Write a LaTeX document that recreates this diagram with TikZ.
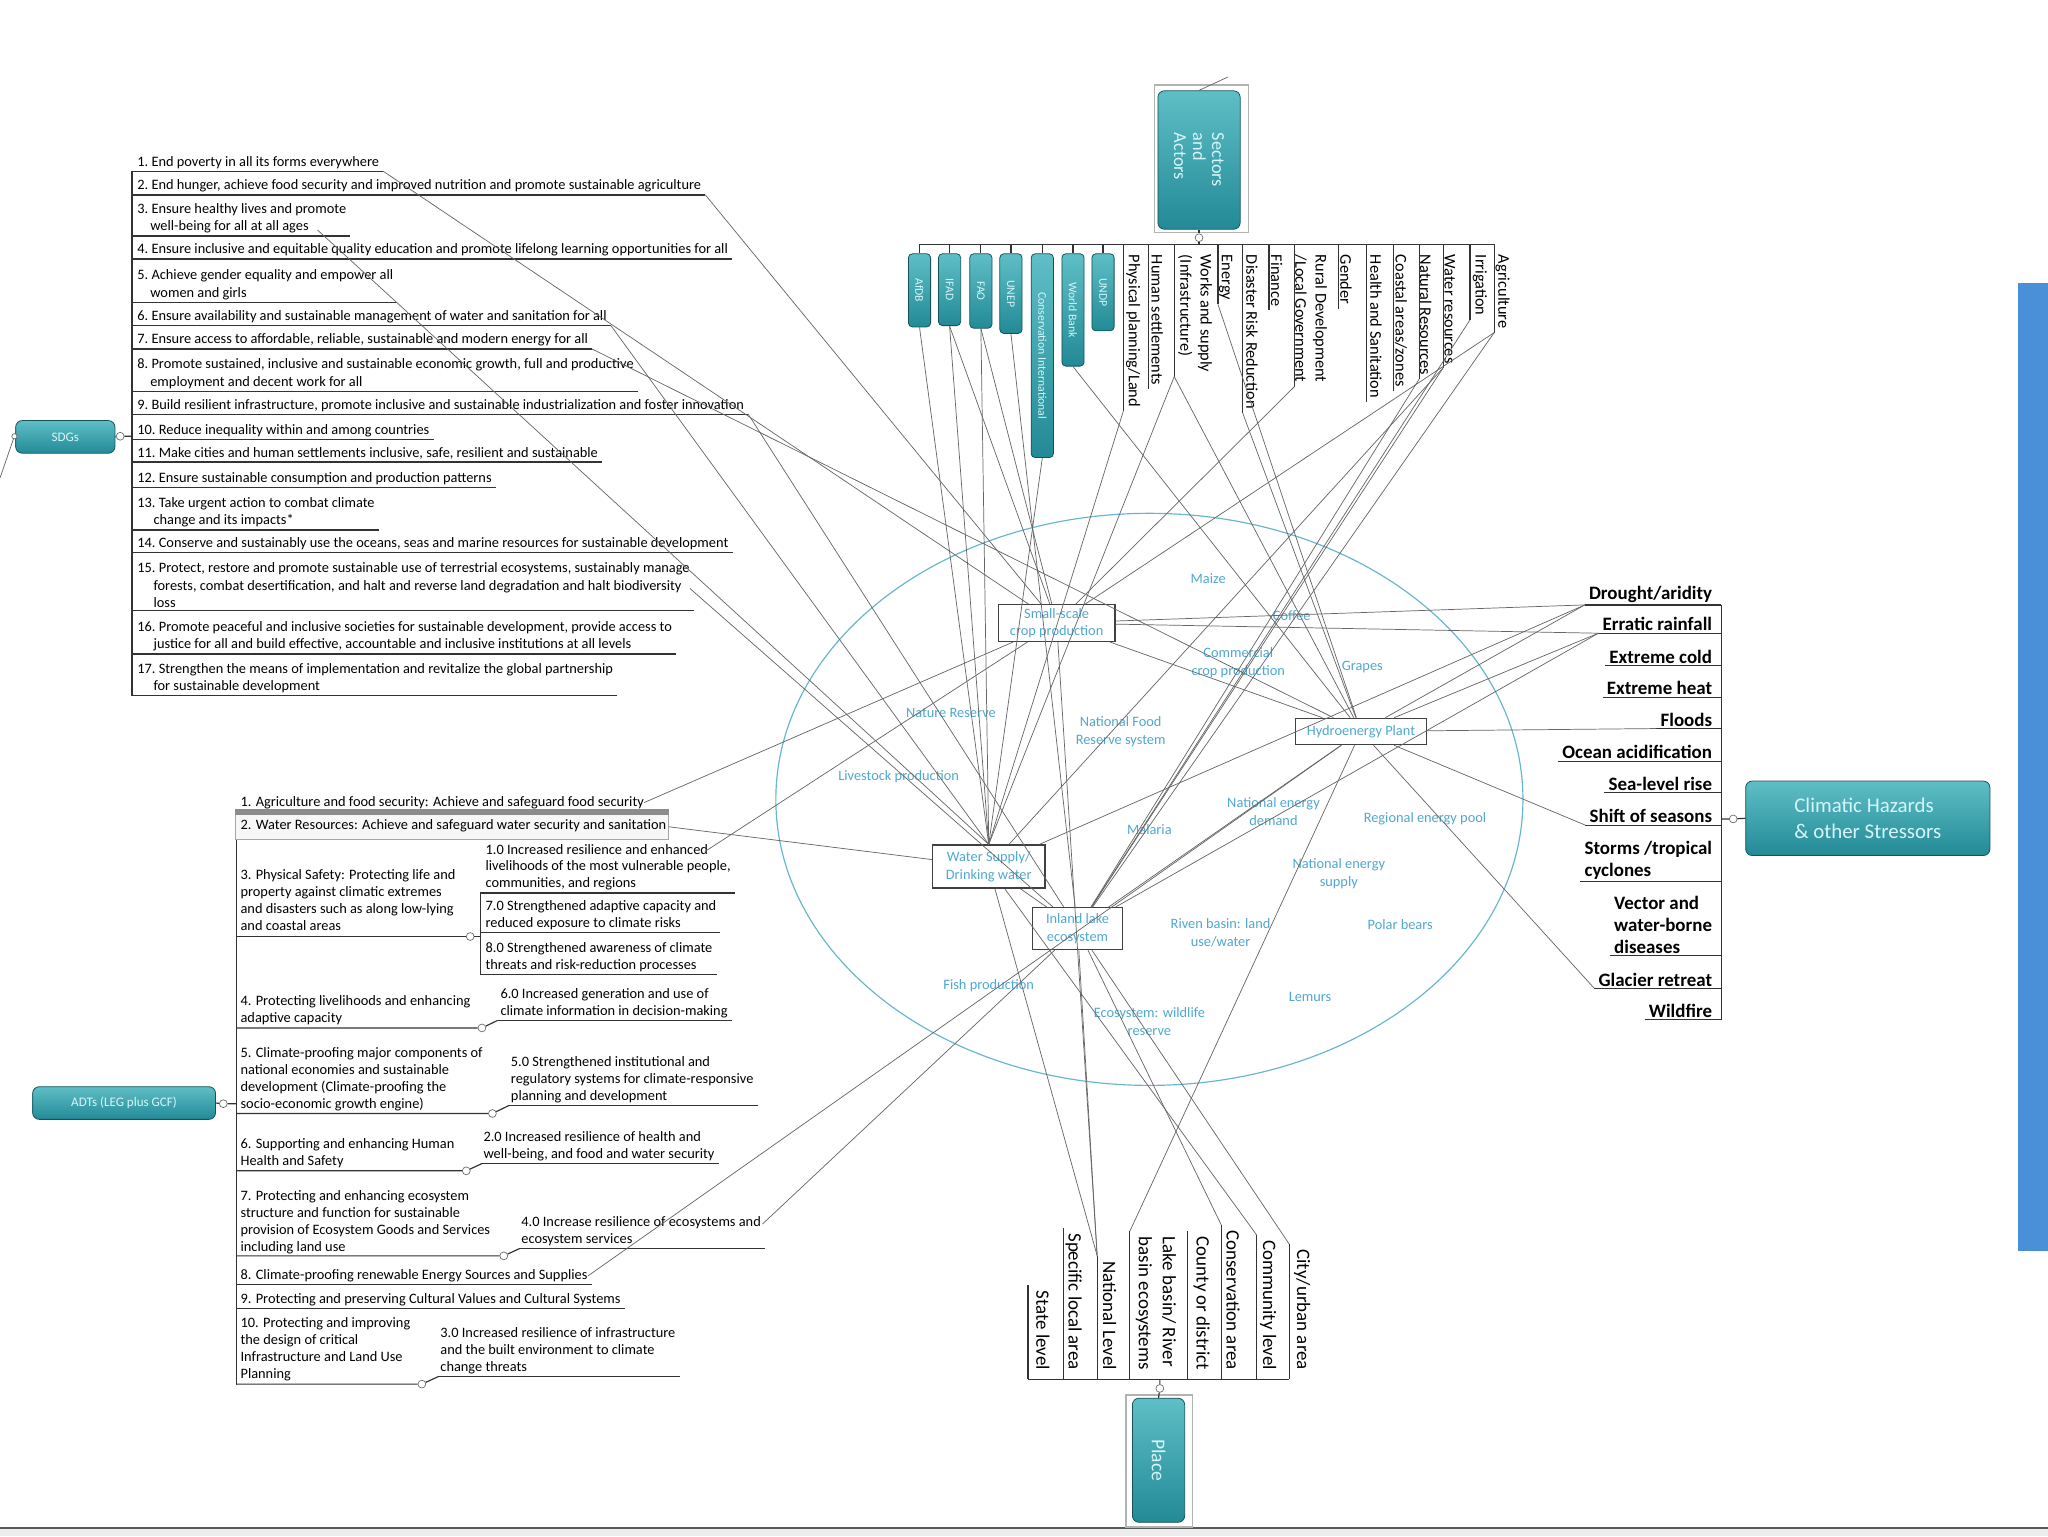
\documentclass[tikz,border=0pt]{standalone}
\usepackage{fontspec}
\setmainfont{Carlito}
\usetikzlibrary{calc}
\definecolor{tealD}{RGB}{34,138,150}
\definecolor{tealL}{RGB}{95,190,198}
\definecolor{tealT}{RGB}{215,245,248}
\definecolor{innerblue}{RGB}{80,168,208}
\definecolor{ellc}{RGB}{105,182,204}
\definecolor{barblue}{RGB}{74,144,217}
\newcommand\ind{\hspace*{0.9em}}
\newcommand\sdgitem[3]{%
  \node[sdgt] (#1) at (105,#2) {#3};
  \path (#1.south east) ++(3,1.8) coordinate (#1e);
  \draw[ul] (sbr |- #1e) -- (#1e);}
\newcommand\adtsub[5]{%
  \node[adtt] (#1) at (#2,#3) {#5};
  \path (#1.south east) ++(3,1.8) coordinate (#1e);
  \draw[ul] (#4,0 |- #1e) -- (#1e);}
\newcommand\hazitem[3]{%
  \node[hz] (#1) at (1311,#2) {#3};
  \path (#1.south west) ++(-3,1.5) coordinate (#1u);
  \draw[ul] (#1u) -- (hbr |- #1u);}
\newcommand\topitem[4]{%
  \node[topl] (#1) at (#3,195) {#4};
  \path (#1.east -| #2,0) ++(0,3) coordinate (#1b);
  \draw[ul] (#2,187) -- (#1b);}
\newcommand\plcitem[4]{%
  \node[plc] (#1) at (#3,1049) {#4};
  \path (#1.west -| #2,0) ++(0,-4) coordinate (#1t);
  \draw[ul] (#1t) -- (#2,1056);}
\begin{document}
\begin{tikzpicture}[x=1pt,y=-1pt,
  tealbox/.style={draw=tealD!60!black, line width=0.6pt, rounded corners=5pt, top color=tealL, bottom color=tealD, text=tealT, align=center, inner sep=1pt},
  sdgt/.style={anchor=north west, inner sep=0pt, align=left, font=\fontsize{11}{13.5}\selectfont},
  adtt/.style={anchor=north west, inner sep=0pt, align=left, font=\fontsize{11}{13}\selectfont},
  hz/.style={anchor=north east, inner sep=0pt, align=left, font=\fontsize{14.5}{17}\selectfont\bfseries},
  topl/.style={rotate=-90, anchor=west, inner sep=0pt, align=left, font=\fontsize{12.5}{15.5}\selectfont},
  plc/.style={rotate=-90, anchor=east, inner sep=0pt, align=left, font=\fontsize{14.5}{18.5}\selectfont},
  ul/.style={line width=0.9pt, black!80},
  lk/.style={line width=0.55pt, black!60},
  circ/.style={circle, draw=black!60, fill=white, line width=0.5pt, inner sep=0pt, minimum size=6pt},
  inb/.style={draw=black!75, line width=1.1pt, inner sep=2pt, text=innerblue, align=center, font=\fontsize{11}{13.5}\selectfont},
  fl/.style={text=innerblue, align=center, inner sep=0pt, font=\fontsize{11}{13.5}\selectfont},
  org/.style={tealbox, rotate=-90, anchor=west, rounded corners=3pt, minimum height=17pt, font=\fontsize{9}{10}\selectfont, inner sep=1pt}
]
\useasboundingbox (0,0) rectangle (1568,1176);
\fill[white] (0,0) rectangle (1568,1176);
\fill[black!7] (0,1170) rectangle (1568,1176);
\draw[black!65, line width=1.3pt] (0,1170) -- (1568,1170);
\fill[barblue] (1545,217) rectangle (1568,958);
\draw[ellc, line width=0.9pt] (880,612) ellipse [x radius=286pt, y radius=219pt];

% ---------------- SDGs
\coordinate (sbr) at (101,0);
\node[tealbox, minimum width=76pt, minimum height=25pt, font=\fontsize{10}{12}\selectfont] (sdgs) at (50,334.5) {SDGs};
\node[circ] (csdg) at (92,334) {};
\node[circ, minimum size=4pt] (csdl) at (11,334) {};
\coordinate (sdgout) at (0,366);
\draw[ul] (sdgs.east) -- (csdg) -- (101,334);
\draw[lk] (csdl) -- (sdgout);
\sdgitem{s1}{119.5}{1.\ End poverty in all its forms everywhere}
\sdgitem{s2}{137.5}{2.\ End hunger, achieve food security and improved nutrition and promote sustainable agriculture}
\sdgitem{s3}{155.5}{3.\ Ensure healthy lives and promote\\\ind well-being for all at all ages}
\sdgitem{s4}{186.5}{4.\ Ensure inclusive and equitable quality education and promote lifelong learning opportunities for all}
\sdgitem{s5}{206.5}{5.\ Achieve gender equality and empower all\\\ind women and girls}
\sdgitem{s6}{237.5}{6.\ Ensure availability and sustainable management of water and sanitation for all}
\sdgitem{s7}{255.5}{7.\ Ensure access to affordable, reliable, sustainable and modern energy for all}
\sdgitem{s8}{274.5}{8.\ Promote sustained, inclusive and sustainable economic growth, full and productive\\\ind employment and decent work for all}
\sdgitem{s9}{305.5}{9.\ Build resilient infrastructure, promote inclusive and sustainable industrialization and foster innovation}
\sdgitem{s10}{324.5}{10.\ Reduce inequality within and among countries}
\sdgitem{s11}{342.5}{11.\ Make cities and human settlements inclusive, safe, resilient and sustainable}
\sdgitem{s12}{361.5}{12.\ Ensure sustainable consumption and production patterns}
\sdgitem{s13}{380.5}{13.\ Take urgent action to combat climate\\\ind\ change and its impacts*}
\sdgitem{s14}{411.5}{14.\ Conserve and sustainably use the oceans, seas and marine resources for sustainable development}
\sdgitem{s15}{430.5}{15.\ Protect, restore and promote sustainable use of terrestrial ecosystems, sustainably manage\\\ind\ forests, combat desertification, and halt and reverse land degradation and halt biodiversity\\\ind\ loss}
\sdgitem{s16}{475.5}{16.\ Promote peaceful and inclusive societies for sustainable development, provide access to\\\ind\ justice for all and build effective, accountable and inclusive institutions at all levels}
\sdgitem{s17}{507.5}{17.\ Strengthen the means of implementation and revitalize the global partnership\\\ind\ for sustainable development}
\draw[ul] (sbr |- s1e) -- (sbr |- s17e);
\coordinate (s3x) at (243,176);
\path (s15.north east) ++(0,20) coordinate (s15x);

% ---------------- ADTs
\node[tealbox, minimum width=140pt, minimum height=25pt, font=\fontsize{10}{12}\selectfont] (adts) at (95,844.5) {ADTs (LEG plus GCF)};
\node[circ] (cadt) at (171,845) {};
\draw[ul] (adts.east) -- (cadt) -- (181,845);
\draw[ul] (181,643) -- (181,1060);
\node[adtt] (a1) at (184,609.5) {1. Agriculture and food security: Achieve and safeguard food security};
\draw[black!35, line width=0.8pt, fill=black!3] (180,621) rectangle (512,643);
\fill[black!45] (180,619) rectangle (512,624);
\node[adtt] (a2) at (184,627.5) {2. Water Resources: Achieve and safeguard water security and sanitation};
\coordinate (a2r) at (512,633);
\node[adtt] (a3) at (184,665.2) {3. Physical Safety: Protecting life and\\property against climatic extremes\\and disasters such as along low-lying\\and coastal areas};
\node[adtt] (a4) at (184,761.9) {4. Protecting livelihoods and enhancing\\adaptive capacity};
\node[adtt] (a5) at (184,801.5) {5. Climate-proofing major components of\\national economies and sustainable\\development (Climate-proofing the\\socio-economic growth engine)};
\node[adtt] (a6) at (184,871.2) {6. Supporting and enhancing Human\\Health and Safety};
\node[adtt] (a7) at (184,911.2) {7. Protecting and enhancing ecosystem\\structure and function for sustainable\\provision of Ecosystem Goods and Services\\including land use};
\node[adtt] (a8) at (184,972) {8. Climate-proofing renewable Energy Sources and Supplies};
\path (a8.south east) ++(3,1.8) coordinate (a8e);
\draw[ul] (181,0 |- a8e) -- (a8e);
\node[adtt] (a9) at (184,990) {9. Protecting and preserving Cultural Values and Cultural Systems};
\path (a9.south east) ++(3,1.8) coordinate (a9e);
\draw[ul] (181,0 |- a9e) -- (a9e);
\node[adtt] (a10) at (184,1008.5) {10. Protecting and improving\\the design of critical\\Infrastructure and Land Use\\Planning};
% sub items
\adtsub{r10}{371.6}{646}{367.7}{1.0 Increased resilience and enhanced\\livelihoods of the most vulnerable people,\\communities, and regions}
\adtsub{r70}{371.6}{689.5}{367.7}{7.0 Strengthened adaptive capacity and\\reduced exposure to climate risks}
\adtsub{r80}{371.6}{721.2}{367.7}{8.0 Strengthened awareness of climate\\threats and risk-reduction processes}
\adtsub{r60}{383}{756.5}{381}{6.0 Increased generation and use of\\climate information in decision-making}
\adtsub{r50}{391}{808.5}{390}{5.0 Strengthened institutional and\\regulatory systems for climate-responsive\\planning and development}
\adtsub{r20}{370}{866.1}{369}{2.0 Increased resilience of health and\\well-being, and food and water security}
\adtsub{r40}{399}{931.2}{398}{4.0 Increase resilience of ecosystems and\\ecosystem services}
\adtsub{r30}{337}{1016}{336}{3.0 Increased resilience of infrastructure\\and the built environment to climate\\change threats}
\node[circ] (c3) at (360,717) {};
\draw[ul] (181,717) -- (c3) -- (367.7,717);
\draw[ul] (367.7,0 |- r10e) -- (367.7,0 |- r80e);
\node[circ] (c4) at (369,787) {};
\draw[ul] (181,787) -- (c4) -- (381,0 |- r60e);
\node[circ] (c5) at (377,852.5) {};
\draw[ul] (181,852.5) -- (c5) -- (390,0 |- r50e);
\node[circ] (c6) at (357,896.4) {};
\draw[ul] (181,896.4) -- (c6) -- (369,0 |- r20e);
\node[circ] (c7) at (385.7,961.5) {};
\draw[ul] (181,961.5) -- (c7) -- (398,0 |- r40e);
\node[circ] (c10) at (323,1059.7) {};
\draw[ul] (181,1059.7) -- (c10) -- (336,0 |- r30e);
\path (r10.north east) ++(-20,6) coordinate (r10x);
\path (r40.north east) ++(1,6) coordinate (r40x);

% ---------------- Sectors and Actors
\draw[black!30, line width=1.2pt] (884,65) rectangle (956,178);
\node[tealbox, rotate=-90, minimum width=106pt, minimum height=63pt, align=left, font=\fontsize{14}{14.5}\selectfont] (sect) at (918,122.5) {Sectors\\and\\Actors};
\node[circ] (csect) at (918,182) {};
\coordinate (sstub) at (940,59);
\draw[lk] (sect.west) -- (sstub);
\draw[ul] (sect.east) -- (csect) -- (918,187);
\draw[ul] (704,187) -- (1144,187);
\node[org, minimum width=56pt] (afdb) at (704,194) {AfDB};
\node[org, minimum width=55pt] (ifad) at (727,194) {IFAD};
\node[org, minimum width=57pt] (fao) at (751,194) {FAO};
\node[org, minimum width=61pt] (unep) at (774,194) {UNEP};
\node[org, minimum width=156pt] (ci) at (798,194) {Conservation International};
\node[org, minimum width=86pt] (wb) at (821.5,194) {World Bank};
\node[org, minimum width=59pt] (undp) at (844.5,194) {UNDP};
\foreach \n/\xx in {afdb/704,ifad/727,fao/751,unep/774,ci/798,wb/821.5,undp/844.5}
  {\draw[ul] (\xx,187) -- (\n.west);}
\topitem{phys}{860}{867.5}{Physical planning/Land}
\topitem{human}{879}{886}{Human settlements}
\topitem{works}{899}{915}{Works and supply\\(Infrastructure)}
\topitem{energy}{932.5}{938.5}{Energy}
\topitem{drr}{951.5}{958.5}{Disaster Risk Reduction}
\topitem{finance}{971.5}{977.5}{Finance}
\topitem{rural}{991}{1003.5}{Rural Development\\/Local Government}
\topitem{gender}{1025}{1030.5}{Gender}
\topitem{health}{1046}{1053.5}{Health and Sanitation}
\topitem{coastal}{1067}{1072.5}{Coastal areas/zones}
\topitem{nres}{1086.5}{1091.5}{Natural Resources}
\topitem{wres}{1105}{1110}{Water resources}
\topitem{irr}{1125.5}{1133}{Irrigation}
\topitem{agri}{1144}{1150.5}{Agriculture}

% ---------------- Place
\draw[black!30, line width=1.2pt] (862,1068) rectangle (913,1169);
\node[tealbox, rotate=-90, minimum width=95pt, minimum height=40pt, font=\fontsize{15}{17}\selectfont] (place) at (887,1118) {Place};
\node[circ] (cplace) at (888,1063) {};
\draw[ul] (place.west) -- (cplace) -- (888,1056);
\draw[ul] (787,1056) -- (987,1056);
\plcitem{state}{787}{798.5}{State level}
\plcitem{specific}{814}{822}{Specific local area}
\plcitem{national}{840}{849.5}{National Level}
\plcitem{lakeb}{865}{885}{Lake basin/ River\\basin ecosystems}
\plcitem{county}{909}{920}{County or district}
\plcitem{conserv}{935}{944}{Conservation area}
\plcitem{commun}{962}{971}{Community level}
\plcitem{city}{987}{997}{City/urban area}

% ---------------- Climatic hazards
\coordinate (hbr) at (1318,0);
\node[tealbox, minimum width=187pt, minimum height=57pt, align=left, font=\fontsize{16}{19.5}\selectfont] (clim) at (1430,626.5) {Climatic Hazards\\\& other Stressors};
\node[circ] (cclim) at (1327,627) {};
\draw[ul] (clim.west) -- (cclim) -- (1318,627);
\hazitem{drought}{448.6}{Drought/aridity}
\hazitem{erratic}{472.6}{Erratic rainfall}
\hazitem{cold}{497.6}{Extreme cold}
\hazitem{heat}{521.6}{Extreme heat}
\hazitem{floods}{545.6}{Floods}
\hazitem{ocean}{570.6}{Ocean acidification}
\hazitem{sea}{594.6}{Sea-level rise}
\hazitem{shift}{619.6}{Shift of seasons}
\hazitem{storms}{643.6}{Storms /tropical\\cyclones}
\hazitem{vector}{685.6}{Vector and\\water-borne\\diseases}
\hazitem{glacier}{744.6}{Glacier retreat}
\hazitem{wildfire}{768.6}{Wildfire}
\draw[ul] (hbr |- droughtu) -- (hbr |- wildfireu);

% ---------------- inner boxes and labels
\node[inb, minimum width=89pt, minimum height=28pt] (crop) at (809,477) {Small-scale\\crop production};
\node[inb, minimum width=100pt, minimum height=20pt] (hydro) at (1042,560) {Hydroenergy Plant};
\node[inb, minimum width=86pt, minimum height=33pt] (water) at (757,663.5) {Water Supply/\\Drinking water};
\node[inb, minimum width=69pt, minimum height=32pt] (lake) at (825,711) {Inland lake\\ecosystem};
\node[fl] (maize) at (925,443) {Maize};
\node[fl] (coffee) at (989,471) {Coffee};
\node[fl] (commerc) at (948,507.5) {Commercial\\crop production};
\node[fl] (grapes) at (1043,511) {Grapes};
\node[fl] (nature) at (728,546) {Nature Reserve};
\node[fl] (nfood) at (858,560) {National Food\\Reserve system};
\node[fl] (livest) at (688,595) {Livestock production};
\node[fl] (nedem) at (975,621.5) {National energy\\demand};
\node[fl] (regpool) at (1091,627) {Regional energy pool};
\node[fl] (malaria) at (880,635.5) {Malaria};
\node[fl] (nesup) at (1025,669) {National energy\\supply};
\node[fl] (riven) at (934.5,714) {Riven basin: land\\use/water};
\node[fl] (polar) at (1072,708) {Polar bears};
\node[fl] (fish) at (757,755) {Fish production};
\node[fl] (lemurs) at (1003,763) {Lemurs};
\node[fl] (ecowild) at (880,782) {Ecosystem: wildlife\\reserve};

% ---------------- connectors
\draw[lk] (s1e) -- (crop);
\draw[lk] (s2e) -- (crop);
\draw[lk] (s3x) -- (water.north);
\draw[lk] (s6e) -- (water.north);
\draw[lk] (s7e) -- (hydro);
\draw[lk] (s9e) -- (lake);
\draw[lk] (s15x) -- (lake);
\draw[lk] (a1.east) -- (crop);
\draw[lk] (a2r) -- (water);
\draw[lk] (r10x) -- (crop);
\draw[lk] (r40x) -- (lake);
\draw[lk] (a8.east) -- (hydro);
\draw[lk] (afdb.east) -- (water.north);
\draw[lk] (ifad.east) -- (water.north);
\draw[lk] (ifad.east) -- (crop);
\draw[lk] (fao.east) -- (water.north);
\draw[lk] (fao.east) -- (crop);
\draw[lk] (unep.east) -- (lake);
\draw[lk] (ci.east) -- (water.north);
\draw[lk] (wb.east) -- (hydro);
\draw[lk] (physb) -- (water.north);
\draw[lk] (worksb) -- (water.north);
\draw[lk] (worksb) -- (hydro);
\draw[lk] (energyb) -- (hydro);
\draw[lk] (drrb) -- (hydro);
\draw[lk] (ruralb) -- (crop);
\draw[lk] (agrib) -- (crop);
\draw[lk] (agrib) -- (lake);
\draw[lk] (irrb) -- (lake);
\draw[lk] (wresb) -- (lake);
\draw[lk] (wresb) -- (water);
\draw[lk] (nresb) -- (lake);
\draw[lk] (droughtu) -- (crop);
\draw[lk] (droughtu) -- (hydro);
\draw[lk] (droughtu) -- (water);
\draw[lk] (erraticu) -- (crop);
\draw[lk] (erraticu) -- (hydro);
\draw[lk] (erraticu) -- (lake);
\draw[lk] (floodsu) -- (hydro);
\draw[lk] (shiftu) -- (hydro);
\draw[lk] (glacieru) -- (hydro);
\draw[lk] (water) -- (lake);
\draw[lk] (crop) -- (hydro);
\draw[lk] (lake) -- (hydro);
\draw[lk] (hydro) -- (lakebt);
\draw[lk] (crop) -- (nationalt);
\draw[lk] (water) -- (nationalt);
\draw[lk] (lake) -- (nationalt);
\draw[lk] (lake) -- (conservt);
\draw[lk] (water) -- (communt);
\draw[lk] (lake) -- (cityt);
\end{tikzpicture}
\end{document}
